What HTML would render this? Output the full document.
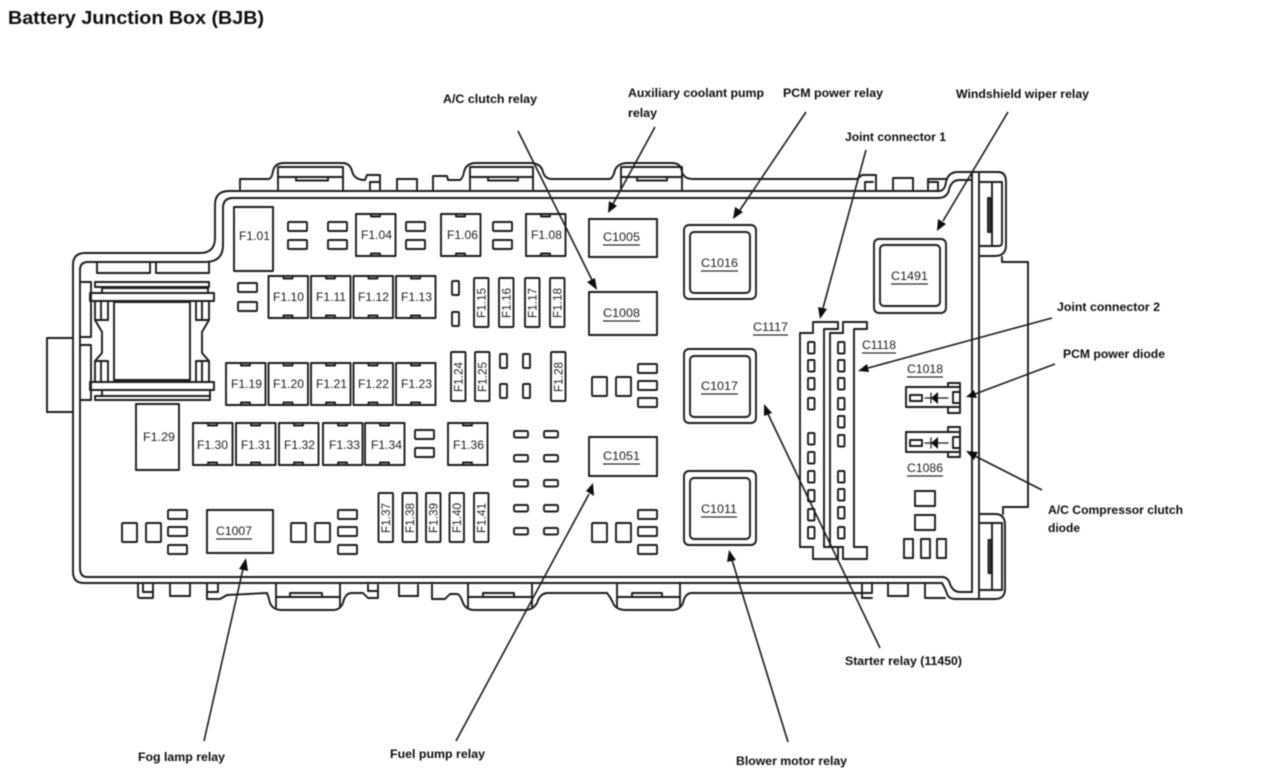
<!DOCTYPE html>
<html><head><meta charset="utf-8"><title>Battery Junction Box (BJB)</title>
<style>
html,body{margin:0;padding:0;background:#fff;width:1273px;height:770px;overflow:hidden}
svg{display:block}
.s{fill:none;stroke:#1c1c1c;stroke-width:1.9;stroke-linejoin:round;stroke-linecap:round}
.t{font-family:"Liberation Sans",sans-serif;font-size:12px;fill:#222}
.l{font-family:"Liberation Sans",sans-serif;font-size:12px;font-weight:bold;fill:#111}
.a{stroke:#1c1c1c;stroke-width:1.6;fill:none}
.u{stroke:#333;stroke-width:1.2;fill:none}
.h{fill:#111;stroke:none}
</style></head><body>
<svg width="1273" height="770" viewBox="0 0 1273 770" xmlns="http://www.w3.org/2000/svg">
<defs>
<filter id="b" x="0" y="0" width="100%" height="100%"><feGaussianBlur stdDeviation="0.4"/></filter>
<g id="q"><rect x="0" y="0" width="39.5" height="42"/><rect x="15" y="0" width="9" height="2.5"/><rect x="15" y="39.5" width="9" height="2.5"/></g>
<rect id="h" x="0" y="0" width="19" height="9" rx="1"/>
<rect id="p" x="0" y="0" width="7" height="14" rx="1"/>
<rect id="v" x="0" y="0" width="14.5" height="49" rx="1"/>
<rect id="e" x="0" y="0" width="14" height="6.5" rx="1.5"/>
<rect id="w" x="0" y="0" width="15" height="19" rx="1"/>
<rect id="n" x="0" y="0" width="6.5" height="11.5" rx="1"/>
</defs>
<g filter="url(#b)">
<g class="s">
<!-- housing -->
<path d="M942 583H84Q73 583 73 572V265Q73 253 85 253H200Q215 253 215 238V205Q215 191 229 191H940Q945 190 946 182Q948 172 958 172H998Q1006 172 1006 182V245Q1006 256 995 256H980"/>
<path d="M942 583Q946 590 947 594Q949 599 955 599H995Q1005 599 1005 589V525Q1005 514 995 514H980"/>
<path d="M972 172V592M979 172V599"/>
<path d="M92 577H87Q80 577 80 568V270Q80 262 88 262H205Q223 262 223 245V208Q223 198 233 198H938Q947 198 949 190Q951 180 960 180H972"/>
<path d="M87 577H942Q948 577 950 584Q953 592 960 592H972"/>
<path d="M1002 257V262H1028V507H1003V514"/>
<path d="M980 182H1002V243Q1002 246 998 246H980M992 182V246M980 523H1002V590H980M992 523V590"/>
<rect x="988" y="198" width="2.5" height="34" fill="#555"/><rect x="988.500" y="540" width="2.500" height="33" fill="#555"/>
<path d="M73 338H47V412H73"/>
<!-- top tabs -->
<path d="M240 191V179H269Q272 178 273 171Q275 163 284 163H342Q350 163 352 171Q354 180 365 180L367 175H380V190M370 190V182H380M397 190V179H417V190M433 190V176H447L448 180H460Q463 178 464 172Q466 163 476 163H530Q541 163 543 172Q545 179 552 179H610Q613 178 615 170Q618 163 628 163H672Q681 163 682 172Q684 179 693 179H857L862 175H876V190M865 190V182H873M893 190V178H913V190M928 190V179H947M928 182H938V190"/>
<path d="M278 191V167H343V191M278 177H343M296 177V180.500H328V177M470 191V167H533V191M470 177H533M488 177V180.500H518V177M621 191V167H682V191M621 177H682M637 177V180.500H667V177"/>
<!-- bottom tabs -->
<path d="M138 584V596Q138 598 140 598H153V584M143 584V592H153M170 584V596H190V584M207 584V599H220L227 595L267 593Q269 598 270 603Q273 610 282 610H333Q340 610 343 603Q345 593 352 593H363L368 598H378V585M368 585V591H378M399 585V596H418V585M432 585V599H445L450 594H457Q460 594 463 603Q466 610 475 610H525Q533 610 537 603Q540 593 548 593H607Q611 598 613 603Q616 610 626 610H672Q680 610 683 603Q685 593 692 593H872V584M862 584V598H872M888 584V596H908V584M925 584V598H945"/>
<path d="M207 592H218V584M276 584V607M340 584V607M276 597H340M290 597V593H322V597M468 584V607M532 584V607M468 597H532M483 597V593H514V597M617 584V607M680 584V607M617 597H680M632 597V593H662V597"/>
<!-- left relay -->
<path d="M97 262V273H150V262M156 262V273H209V262"/>
<rect x="95" y="282" width="114" height="5"/><rect x="102" y="288" width="106" height="5"/>
<rect x="90" y="293" width="124" height="8"/>
<rect x="90" y="382" width="124" height="8"/>
<rect x="102" y="390" width="108" height="6"/><rect x="95" y="396" width="115" height="4"/>
<rect x="114" y="302" width="76" height="78"/>
<path d="M80 282H91V337H80M80 345H91V400H80"/>
<path d="M95 301V320H108V301M101 301V320M95 320L102 332V353L95 361V381M95 361H108V381M101 361V381"/>
<path d="M209 301V320H196V301M202 301V320M209 320L202 332V353L209 361V381M209 361H196V381M202 361V381"/>
<!-- tall fuses -->
<rect x="234" y="207" width="39" height="64"/>
<rect x="136" y="404" width="43" height="66"/>
<!-- square fuses -->
<use href="#q" x="356" y="214"/><use href="#q" x="441" y="214"/><use href="#q" x="526" y="214"/>
<use href="#q" x="268.500" y="276"/><use href="#q" x="311" y="276"/><use href="#q" x="353.500" y="276"/><use href="#q" x="396" y="276"/>
<use href="#q" x="226" y="363"/><use href="#q" x="268.500" y="363"/><use href="#q" x="311" y="363"/><use href="#q" x="353.500" y="363"/><use href="#q" x="396" y="363"/>
<use href="#q" x="193" y="423"/><use href="#q" x="236" y="423"/><use href="#q" x="279" y="423"/><use href="#q" x="323" y="423"/><use href="#q" x="365" y="423"/><use href="#q" x="448" y="423"/>
<!-- small horizontal -->
<use href="#h" x="288" y="222"/><use href="#h" x="288" y="240"/><use href="#h" x="328" y="222"/><use href="#h" x="328" y="240"/>
<use href="#h" x="406" y="222"/><use href="#h" x="406" y="240"/><use href="#h" x="493" y="222"/><use href="#h" x="493" y="240"/>
<use href="#h" x="238" y="283"/><use href="#h" x="238" y="302"/><use href="#h" x="415" y="430"/><use href="#h" x="415" y="448"/>
<use href="#h" x="638" y="364"/><use href="#h" x="638" y="381"/><use href="#h" x="638" y="398"/>
<use href="#h" x="638" y="510"/><use href="#h" x="638" y="527"/><use href="#h" x="638" y="545"/>
<use href="#h" x="168" y="510"/><use href="#h" x="168" y="527"/><use href="#h" x="168" y="545"/>
<use href="#h" x="338" y="510"/><use href="#h" x="338" y="527"/><use href="#h" x="338" y="545"/>
<!-- small vertical -->
<use href="#p" x="452" y="281"/><use href="#p" x="452" y="312"/>
<use href="#p" x="500" y="354"/><use href="#p" x="500" y="384"/><use href="#p" x="523" y="354"/><use href="#p" x="523" y="384"/>
<!-- vertical fuses -->
<use href="#v" x="474" y="278"/><use href="#v" x="499" y="278"/><use href="#v" x="525" y="278"/><use href="#v" x="550" y="278"/>
<use href="#v" x="451" y="352"/><use href="#v" x="475" y="352"/><use href="#v" x="551" y="352"/>
<use href="#v" x="378.500" y="493"/><use href="#v" x="402.500" y="493"/><use href="#v" x="426" y="493"/><use href="#v" x="449.500" y="493"/><use href="#v" x="474" y="493"/>
<!-- small grid -->
<use href="#e" x="514" y="431"/><use href="#e" x="544" y="431"/><use href="#e" x="514" y="455"/><use href="#e" x="544" y="455"/><use href="#e" x="514" y="480"/><use href="#e" x="544" y="480"/><use href="#e" x="514" y="505"/><use href="#e" x="544" y="505"/><use href="#e" x="514" y="528"/><use href="#e" x="544" y="528"/>
<!-- squares -->
<use href="#w" x="592" y="377"/><use href="#w" x="616" y="377"/><use href="#w" x="592" y="523"/><use href="#w" x="616" y="523"/>
<use href="#w" x="122" y="523"/><use href="#w" x="146" y="523"/><use href="#w" x="291" y="523"/><use href="#w" x="315" y="523"/>
<!-- connectors -->
<rect x="589" y="219" width="68" height="38"/><rect x="589" y="292" width="68" height="43"/><rect x="589" y="437" width="68" height="39"/><rect x="207" y="510" width="66" height="43"/>
<rect x="684" y="225" width="72" height="74" rx="5"/><rect x="690" y="232" width="60" height="61" rx="4"/>
<rect x="684" y="349" width="72" height="74" rx="5"/><rect x="690" y="356" width="60" height="61" rx="4"/>
<rect x="684" y="471" width="72" height="74" rx="5"/><rect x="690" y="478" width="60" height="61" rx="4"/>
<rect x="874" y="239" width="72" height="74" rx="5"/><rect x="880" y="245" width="60" height="61" rx="4"/>
<!-- C1117 / C1118 -->
<path d="M800 333H813V322H838V329H824V547H838V559H813V547H800Z"/>
<path d="M830 547V333H843V322H867V329H854V547H867V559H843V547Z"/>
<use href="#n" x="808" y="342"/><use href="#n" x="808" y="360"/><use href="#n" x="808" y="378"/><use href="#n" x="808" y="398"/><use href="#n" x="808" y="433"/><use href="#n" x="808" y="452"/><use href="#n" x="808" y="471"/><use href="#n" x="808" y="490"/><use href="#n" x="808" y="509"/><use href="#n" x="808" y="527"/>
<use href="#n" x="838" y="342"/><use href="#n" x="838" y="360"/><use href="#n" x="838" y="378"/><use href="#n" x="838" y="398"/><use href="#n" x="838" y="416"/><use href="#n" x="838" y="435"/><use href="#n" x="838" y="471"/><use href="#n" x="838" y="489"/><use href="#n" x="838" y="507"/><use href="#n" x="838" y="527"/>
<!-- diodes -->
<path d="M906 387H948V383H960V413H948V407H906ZM948 387H960M948 407H960M953 392V403H960M953 392H960M910 395H922V401H910Z"/>
<path d="M906 432H948V427H960V457H948V452H906ZM948 432H960M948 452H960M953 437V448H960M953 437H960M910 440H922V446H910Z"/>
<path stroke-width="1.2" d="M925 398H948M931 393V403M925 443H948M931 438V448"/>
<rect x="915" y="491" width="20" height="15"/><rect x="915" y="515" width="20" height="15"/>
<rect x="904" y="539" width="9" height="19"/><rect x="921" y="539" width="9" height="19"/><rect x="937" y="539" width="9" height="19"/>
</g>
<path class="h" d="M938 392L931 398L938 404ZM938 437L931 443L938 449Z"/>
<!-- underlines -->
<path class="u" d="M603 245H640M603 321H640M603 464H640M216 539H252M701 271H738M701 394H738M701 517H737M891 284H928M753 335H788M862 353H896M907 377H943M907 476H943"/>
<!-- arrows -->
<path class="a" d="M518 131L592 280M655 127L613 204M806 112L740 210M1008 112L943 221M866 150L823 308M1052 318L868 368M1055 364L975 394M1042 490L975 456M880 648L768 414M788 742L732 560M456 741L589 494M204 741L243 569"/>
<path class="h" d="M597 290L587 282L595 278ZM608 213L609 201L617 206ZM733 219L735 207L743 212ZM937 231L938 219L946 224ZM820 319L818 307L827 309ZM858 371L867 364L869 372ZM966 397L974 390L977 398ZM966 451L978 452L974 460ZM764 404L772 413L764 416ZM729 550L736 560L727 562ZM593 483L594 496L586 491ZM246 558L248 571L239 569Z"/>
<!-- fuse labels -->
<text class="t" x="239" y="240" textLength="31" lengthAdjust="spacingAndGlyphs">F1.01</text>
<text class="t" x="143" y="441" textLength="32" lengthAdjust="spacingAndGlyphs">F1.29</text>
<text class="t" x="361" y="239" textLength="31" lengthAdjust="spacingAndGlyphs">F1.04</text>
<text class="t" x="447" y="239" textLength="31" lengthAdjust="spacingAndGlyphs">F1.06</text>
<text class="t" x="531" y="239" textLength="31" lengthAdjust="spacingAndGlyphs">F1.08</text>
<text class="t" x="273" y="301" textLength="31" lengthAdjust="spacingAndGlyphs">F1.10</text>
<text class="t" x="316" y="301" textLength="30" lengthAdjust="spacingAndGlyphs">F1.11</text>
<text class="t" x="358" y="301" textLength="31" lengthAdjust="spacingAndGlyphs">F1.12</text>
<text class="t" x="401" y="301" textLength="31" lengthAdjust="spacingAndGlyphs">F1.13</text>
<text class="t" x="231" y="388" textLength="31" lengthAdjust="spacingAndGlyphs">F1.19</text>
<text class="t" x="273" y="388" textLength="31" lengthAdjust="spacingAndGlyphs">F1.20</text>
<text class="t" x="316" y="388" textLength="31" lengthAdjust="spacingAndGlyphs">F1.21</text>
<text class="t" x="358" y="388" textLength="31" lengthAdjust="spacingAndGlyphs">F1.22</text>
<text class="t" x="401" y="388" textLength="31" lengthAdjust="spacingAndGlyphs">F1.23</text>
<text class="t" x="197" y="449" textLength="31" lengthAdjust="spacingAndGlyphs">F1.30</text>
<text class="t" x="241" y="449" textLength="30" lengthAdjust="spacingAndGlyphs">F1.31</text>
<text class="t" x="284" y="449" textLength="31" lengthAdjust="spacingAndGlyphs">F1.32</text>
<text class="t" x="329" y="449" textLength="31" lengthAdjust="spacingAndGlyphs">F1.33</text>
<text class="t" x="371" y="449" textLength="31" lengthAdjust="spacingAndGlyphs">F1.34</text>
<text class="t" x="453" y="449" textLength="31" lengthAdjust="spacingAndGlyphs">F1.36</text>
<!-- rotated -->
<g class="t">
<text transform="translate(485.500,318) rotate(-90)" textLength="30" lengthAdjust="spacingAndGlyphs">F1.15</text>
<text transform="translate(510.500,318) rotate(-90)" textLength="30" lengthAdjust="spacingAndGlyphs">F1.16</text>
<text transform="translate(536.500,318) rotate(-90)" textLength="30" lengthAdjust="spacingAndGlyphs">F1.17</text>
<text transform="translate(561.500,318) rotate(-90)" textLength="30" lengthAdjust="spacingAndGlyphs">F1.18</text>
<text transform="translate(462.500,392) rotate(-90)" textLength="30" lengthAdjust="spacingAndGlyphs">F1.24</text>
<text transform="translate(486.500,392) rotate(-90)" textLength="30" lengthAdjust="spacingAndGlyphs">F1.25</text>
<text transform="translate(562.500,392) rotate(-90)" textLength="30" lengthAdjust="spacingAndGlyphs">F1.28</text>
<text transform="translate(390,533) rotate(-90)" textLength="30" lengthAdjust="spacingAndGlyphs">F1.37</text>
<text transform="translate(414,533) rotate(-90)" textLength="30" lengthAdjust="spacingAndGlyphs">F1.38</text>
<text transform="translate(437.500,533) rotate(-90)" textLength="30" lengthAdjust="spacingAndGlyphs">F1.39</text>
<text transform="translate(461,533) rotate(-90)" textLength="30" lengthAdjust="spacingAndGlyphs">F1.40</text>
<text transform="translate(485.500,533) rotate(-90)" textLength="30" lengthAdjust="spacingAndGlyphs">F1.41</text>
</g>
<!-- connector labels -->
<text class="t" x="603" y="241" textLength="37" lengthAdjust="spacingAndGlyphs">C1005</text>
<text class="t" x="603" y="317" textLength="37" lengthAdjust="spacingAndGlyphs">C1008</text>
<text class="t" x="603" y="460" textLength="37" lengthAdjust="spacingAndGlyphs">C1051</text>
<text class="t" x="216" y="535" textLength="36" lengthAdjust="spacingAndGlyphs">C1007</text>
<text class="t" x="701" y="267" textLength="37" lengthAdjust="spacingAndGlyphs">C1016</text>
<text class="t" x="701" y="390" textLength="37" lengthAdjust="spacingAndGlyphs">C1017</text>
<text class="t" x="701" y="513" textLength="36" lengthAdjust="spacingAndGlyphs">C1011</text>
<text class="t" x="891" y="280" textLength="37" lengthAdjust="spacingAndGlyphs">C1491</text>
<text class="t" x="753" y="331" textLength="35" lengthAdjust="spacingAndGlyphs">C1117</text>
<text class="t" x="862" y="349" textLength="34" lengthAdjust="spacingAndGlyphs">C1118</text>
<text class="t" x="907" y="373" textLength="36" lengthAdjust="spacingAndGlyphs">C1018</text>
<text class="t" x="907" y="472" textLength="36" lengthAdjust="spacingAndGlyphs">C1086</text>
<!-- callouts -->
<text class="l" x="8" y="24" style="font-size:18.500px" textLength="256" lengthAdjust="spacingAndGlyphs">Battery Junction Box (BJB)</text>
<text class="l" x="443" y="103" textLength="94" lengthAdjust="spacingAndGlyphs">A/C clutch relay</text>
<text class="l" x="628" y="97" textLength="136" lengthAdjust="spacingAndGlyphs">Auxiliary coolant pump</text>
<text class="l" x="628" y="117" textLength="29" lengthAdjust="spacingAndGlyphs">relay</text>
<text class="l" x="783" y="97" textLength="100" lengthAdjust="spacingAndGlyphs">PCM power relay</text>
<text class="l" x="956" y="98" textLength="133" lengthAdjust="spacingAndGlyphs">Windshield wiper relay</text>
<text class="l" x="845" y="141" textLength="101" lengthAdjust="spacingAndGlyphs">Joint connector 1</text>
<text class="l" x="1057" y="311" textLength="103" lengthAdjust="spacingAndGlyphs">Joint connector 2</text>
<text class="l" x="1063" y="358" textLength="102" lengthAdjust="spacingAndGlyphs">PCM power diode</text>
<text class="l" x="1048" y="514" textLength="135" lengthAdjust="spacingAndGlyphs">A/C Compressor clutch</text>
<text class="l" x="1048" y="532" textLength="32" lengthAdjust="spacingAndGlyphs">diode</text>
<text class="l" x="845" y="665" textLength="117" lengthAdjust="spacingAndGlyphs">Starter relay (11450)</text>
<text class="l" x="138" y="761" textLength="87" lengthAdjust="spacingAndGlyphs">Fog lamp relay</text>
<text class="l" x="390" y="758" textLength="95" lengthAdjust="spacingAndGlyphs">Fuel pump relay</text>
<text class="l" x="736" y="765" textLength="111" lengthAdjust="spacingAndGlyphs">Blower motor relay</text>
</g>
</svg>
</body></html>
